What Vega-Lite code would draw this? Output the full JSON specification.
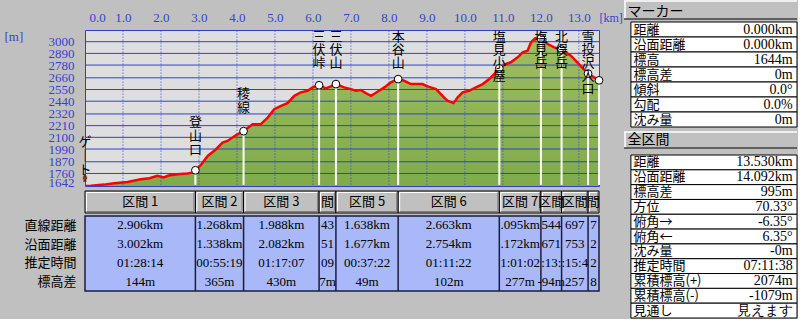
{
  "$schema": "https://vega.github.io/schema/vega-lite/v6.json",
  "background": "#c0c0c0",
  "padding": {"left": 3, "top": 0, "right": 0, "bottom": 0},
  "config": {
    "view": {"stroke": null},
    "font": "Liberation Serif",
    "axis": {"labelFont": "Liberation Serif", "labelFontSize": 13, "labelColor": "#3444cc", "titleFont": "Liberation Serif", "titleFontSize": 13, "titleFontWeight": "normal", "titleColor": "#3444cc", "grid": false, "ticks": false, "domain": false, "labelFlush": false, "titleAngle": 0}
  },
  "datasets": {
    "profile": [
      {"km": 0, "elev": 1642}, {"km": 0.16, "elev": 1645}, {"km": 0.5, "elev": 1655}, {"km": 0.77, "elev": 1667},
      {"km": 1.12, "elev": 1680}, {"km": 1.47, "elev": 1705}, {"km": 1.7, "elev": 1715}, {"km": 1.9, "elev": 1738},
      {"km": 2.0, "elev": 1730}, {"km": 2.07, "elev": 1722}, {"km": 2.2, "elev": 1740}, {"km": 2.44, "elev": 1752},
      {"km": 2.7, "elev": 1760}, {"km": 2.83, "elev": 1768}, {"km": 2.906, "elev": 1790}, {"km": 3.05, "elev": 1840},
      {"km": 3.23, "elev": 1925}, {"km": 3.45, "elev": 1988}, {"km": 3.62, "elev": 2051}, {"km": 3.75, "elev": 2066},
      {"km": 3.97, "elev": 2120}, {"km": 4.174, "elev": 2158}, {"km": 4.41, "elev": 2223}, {"km": 4.63, "elev": 2225},
      {"km": 4.81, "elev": 2286}, {"km": 4.98, "elev": 2365}, {"km": 5.16, "elev": 2396}, {"km": 5.33, "elev": 2422},
      {"km": 5.51, "elev": 2491}, {"km": 5.68, "elev": 2523}, {"km": 5.86, "elev": 2538}, {"km": 5.99, "elev": 2570},
      {"km": 6.162, "elev": 2590}, {"km": 6.34, "elev": 2561}, {"km": 6.47, "elev": 2579}, {"km": 6.605, "elev": 2601},
      {"km": 6.82, "elev": 2570}, {"km": 7.0, "elev": 2554}, {"km": 7.13, "elev": 2538}, {"km": 7.26, "elev": 2545},
      {"km": 7.39, "elev": 2516}, {"km": 7.53, "elev": 2491}, {"km": 7.7, "elev": 2529}, {"km": 7.88, "elev": 2570},
      {"km": 8.05, "elev": 2617}, {"km": 8.243, "elev": 2648}, {"km": 8.4, "elev": 2632}, {"km": 8.58, "elev": 2601},
      {"km": 8.88, "elev": 2601}, {"km": 9.02, "elev": 2579}, {"km": 9.24, "elev": 2554}, {"km": 9.41, "elev": 2491},
      {"km": 9.54, "elev": 2444}, {"km": 9.7, "elev": 2422}, {"km": 9.81, "elev": 2476}, {"km": 9.94, "elev": 2523},
      {"km": 10.11, "elev": 2538}, {"km": 10.29, "elev": 2570}, {"km": 10.47, "elev": 2601}, {"km": 10.64, "elev": 2648},
      {"km": 10.77, "elev": 2695}, {"km": 10.906, "elev": 2749}, {"km": 11.08, "elev": 2790}, {"km": 11.21, "elev": 2806},
      {"km": 11.39, "elev": 2853}, {"km": 11.52, "elev": 2900}, {"km": 11.65, "elev": 2915}, {"km": 11.74, "elev": 2994},
      {"km": 11.85, "elev": 3032}, {"km": 12.001, "elev": 3030}, {"km": 12.18, "elev": 2978}, {"km": 12.35, "elev": 2947},
      {"km": 12.545, "elev": 2925}, {"km": 12.79, "elev": 2868}, {"km": 12.96, "elev": 2806}, {"km": 13.14, "elev": 2736},
      {"km": 13.242, "elev": 2700}, {"km": 13.53, "elev": 2636}
    ],
    "points": [
      {"km": 0, "elev": 1642, "label": ["ゲ", "｜", "ト"]},
      {"km": 2.906, "elev": 1790, "label": ["登", "山", "口"]},
      {"km": 4.174, "elev": 2158, "label": ["稜", "線"]},
      {"km": 6.162, "elev": 2590, "label": ["三", "伏", "峠"]},
      {"km": 6.605, "elev": 2601, "label": ["三", "伏", "山"]},
      {"km": 8.243, "elev": 2648, "label": ["本", "谷", "山"]},
      {"km": 10.906, "elev": 2749, "label": ["塩", "見", "小", "屋"]},
      {"km": 12.001, "elev": 3030, "label": ["塩", "見", "岳"]},
      {"km": 12.545, "elev": 2925, "label": ["北", "俣", "岳"]},
      {"km": 13.242, "elev": 2700, "label": ["雪", "投", "沢", "入", "口"]},
      {"km": 13.53, "elev": 2636, "label": null}
    ],
    "gridY": [
      {"elev": 1760}, {"elev": 1870}, {"elev": 1990}, {"elev": 2100}, {"elev": 2210}, {"elev": 2320},
      {"elev": 2440}, {"elev": 2550}, {"elev": 2660}, {"elev": 2780}, {"elev": 2890}, {"elev": 3000}
    ],
    "gridX": [
      {"km": 0}, {"km": 1}, {"km": 2}, {"km": 3}, {"km": 4}, {"km": 5}, {"km": 6}, {"km": 7},
      {"km": 8}, {"km": 9}, {"km": 10}, {"km": 11}, {"km": 12}, {"km": 13}
    ],
    "sections": [
      {"sec": 1, "start": 0, "end": 2.906, "header": "区間 1", "直線距離": "2.906km", "沿面距離": "3.002km", "推定時間": "01:28:14", "標高差": "144m"},
      {"sec": 2, "start": 2.906, "end": 4.174, "header": "区間 2", "直線距離": "1.268km", "沿面距離": "1.338km", "推定時間": "00:55:19", "標高差": "365m"},
      {"sec": 3, "start": 4.174, "end": 6.162, "header": "区間 3", "直線距離": "1.988km", "沿面距離": "2.082km", "推定時間": "01:17:07", "標高差": "430m"},
      {"sec": 4, "start": 6.162, "end": 6.605, "header": "間", "直線距離": "43", "沿面距離": "51", "推定時間": "09", "標高差": "7m"},
      {"sec": 5, "start": 6.605, "end": 8.243, "header": "区間 5", "直線距離": "1.638km", "沿面距離": "1.677km", "推定時間": "00:37:22", "標高差": "49m"},
      {"sec": 6, "start": 8.243, "end": 10.906, "header": "区間 6", "直線距離": "2.663km", "沿面距離": "2.754km", "推定時間": "01:11:22", "標高差": "102m"},
      {"sec": 7, "start": 10.906, "end": 12.001, "header": "区間 7", "直線距離": ".095km", "沿面距離": ".172km", "推定時間": "1:01:02", "標高差": "277m"},
      {"sec": 8, "start": 12.001, "end": 12.545, "header": "区間", "直線距離": "544", "沿面距離": "671", "推定時間": ":13:", "標高差": "-94m"},
      {"sec": 9, "start": 12.545, "end": 13.242, "header": "区間", "直線距離": "697", "沿面距離": "753", "推定時間": ":15:4", "標高差": "257"},
      {"sec": 10, "start": 13.242, "end": 13.53, "header": "間", "直線距離": "7", "沿面距離": "2", "推定時間": "2", "標高差": "8"}
    ],
    "marker": [
      {"label": "距離", "value": "0.000km"},
      {"label": "沿面距離", "value": "0.000km"},
      {"label": "標高", "value": "1644m"},
      {"label": "標高差", "value": "0m"},
      {"label": "傾斜", "value": "0.0°"},
      {"label": "勾配", "value": "0.0%"},
      {"label": "沈み量", "value": "0m"}
    ],
    "total": [
      {"label": "距離", "value": "13.530km"},
      {"label": "沿面距離", "value": "14.092km"},
      {"label": "標高差", "value": "995m"},
      {"label": "方位", "value": "70.33°"},
      {"label": "俯角→", "value": "-6.35°"},
      {"label": "俯角←", "value": "6.35°"},
      {"label": "沈み量", "value": "-0m"},
      {"label": "推定時間", "value": "07:11:38"},
      {"label": "累積標高(+)", "value": "2074m"},
      {"label": "累積標高(-)", "value": "-1079m"},
      {"label": "見通し", "value": "見えます"}
    ]
  },
  "columns": 2,
  "align": "none",
  "spacing": 0,
  "concat": [
    {
      "spacing": 0,
      "vconcat": [
        {
          "width": 514,
          "height": 29,
          "data": {"name": "gridX"},
          "mark": {"type": "point", "opacity": 0, "size": 1},
          "encoding": {
            "x": {"field": "km", "type": "quantitative", "scale": {"domain": [0, 13.53], "nice": false, "zero": false},
              "axis": {"orient": "top", "offset": -25, "minExtent": 0, "values": [0, 1, 2, 3, 4, 5, 6, 7, 8, 9, 10, 11, 12, 13], "format": ".1f",
                "labelPadding": 4, "labelBaseline": "alphabetic", "labelOverlap": false, "labelSeparation": -40,
                "labelAlign": {"condition": {"test": "datum.value === 0", "value": "left"}, "value": "center"},
                "labelOffset": {"condition": {"test": "datum.value === 0", "value": 4}, "value": 0},
                "title": "[km]", "titleFontSize": 12, "titleAlign": "left", "titleBaseline": "alphabetic", "titleX": 514, "titleY": -4}}
          }
        },
        {
          "width": 514,
          "height": 156,
          "view": {"fill": "#dedede", "stroke": "#3040c8", "strokeWidth": 1},
          "resolve": {"axis": {"x": "independent", "y": "independent"}},
          "layer": [
            {
              "data": {"name": "profile"},
              "mark": {"type": "area", "clip": true, "fill": {"gradient": "linear", "x1": 0, "y1": 0, "x2": 0, "y2": 1, "stops": [{"offset": 0, "color": "#a0bd60"}, {"offset": 1, "color": "#5a9631"}]}, "fillOpacity": 1},
              "encoding": {
                "x": {"field": "km", "type": "quantitative", "scale": {"domain": [0, 13.53], "nice": false, "zero": false}, "axis": null},
                "y": {"field": "elev", "type": "quantitative", "scale": {"domain": [1642, 3110], "nice": false, "zero": false},
                  "axis": {"orient": "left", "minExtent": 0, "values": [1642, 1760, 1870, 1990, 2100, 2210, 2320, 2440, 2550, 2660, 2780, 2890, 3000], "format": "d",
                    "labelPadding": 11, "labelOverlap": false, "labelSeparation": -40,
                    "labelBaseline": {"condition": {"test": "datum.value === 1642", "value": "alphabetic"}, "value": "middle"},
                    "title": "[m]", "titleAlign": "left", "titleBaseline": "top", "titleX": -81, "titleY": 0}}
              }
            },
            {
              "data": {"name": "gridY"},
              "mark": {"type": "rule", "color": "#3040d0", "strokeWidth": 1},
              "encoding": {"y": {"field": "elev", "type": "quantitative", "scale": {"domain": [1642, 3110], "nice": false, "zero": false}, "axis": null}}
            },
            {
              "data": {"name": "gridX"},
              "transform": [{"filter": "datum.km > 0"}],
              "mark": {"type": "rule", "color": "#3040e0", "strokeWidth": 1, "strokeDash": [1, 2]},
              "encoding": {
                "x": {"field": "km", "type": "quantitative", "scale": {"domain": [0, 13.53], "nice": false, "zero": false}, "axis": null},
                "y": {"datum": 3104, "type": "quantitative", "scale": {"domain": [1642, 3110], "nice": false, "zero": false}, "axis": null},
                "y2": {"datum": 1648}
              }
            },
            {
              "data": {"name": "profile"},
              "mark": {"type": "line", "color": "#ff0000", "strokeWidth": 2.5, "clip": true},
              "encoding": {
                "x": {"field": "km", "type": "quantitative", "scale": {"domain": [0, 13.53], "nice": false, "zero": false}, "axis": null},
                "y": {"field": "elev", "type": "quantitative", "scale": {"domain": [1642, 3110], "nice": false, "zero": false}, "axis": null}
              }
            },
            {
              "data": {"name": "points"},
              "transform": [{"filter": "datum.km > 0"}],
              "mark": {"type": "rule", "color": "#ffffff", "strokeWidth": 2},
              "encoding": {
                "x": {"field": "km", "type": "quantitative", "scale": {"domain": [0, 13.53], "nice": false, "zero": false}, "axis": null},
                "y": {"field": "elev", "type": "quantitative", "scale": {"domain": [1642, 3110], "nice": false, "zero": false}, "axis": null},
                "y2": {"datum": 1652}
              }
            },
            {
              "data": {"name": "points"},
              "transform": [{"filter": "datum.km > 0"}],
              "mark": {"type": "point", "shape": "circle", "filled": true, "fill": "#ffffff", "stroke": "#000000", "strokeWidth": 1, "size": 60, "opacity": 1},
              "encoding": {
                "x": {"field": "km", "type": "quantitative", "scale": {"domain": [0, 13.53], "nice": false, "zero": false}, "axis": null},
                "y": {"field": "elev", "type": "quantitative", "scale": {"domain": [1642, 3110], "nice": false, "zero": false}, "axis": null}
              }
            },
            {
              "data": {"name": "points"},
              "transform": [{"filter": "datum.km === 0"}],
              "mark": {"type": "point", "shape": "M-0.3,-0.75 A0.25,0.25 0 1,1 0.3,-0.75 A0.25,0.25 0 1,1 -0.3,-0.75 Z M-0.45,-0.45 L0.45,-0.45 L0.55,0.25 L0.25,0.25 L0.35,1 L0.08,1 L0,0.45 L-0.12,1 L-0.4,1 L-0.28,0.25 L-0.55,0.25 Z", "filled": true, "fill": "#a8281c", "stroke": "#402010", "strokeWidth": 0.5, "size": 50, "opacity": 1, "yOffset": -8},
              "encoding": {
                "x": {"field": "km", "type": "quantitative", "scale": {"domain": [0, 13.53], "nice": false, "zero": false}, "axis": null},
                "y": {"field": "elev", "type": "quantitative", "scale": {"domain": [1642, 3110], "nice": false, "zero": false}, "axis": null}
              }
            },
            {
              "data": {"name": "points"},
              "transform": [{"filter": "datum.km === 0"}],
              "mark": {"type": "text", "font": "Noto Sans CJK JP", "fontSize": 13, "lineHeight": 14, "baseline": "top", "align": "center", "dy": -50, "color": "#000000"},
              "encoding": {
                "x": {"field": "km", "type": "quantitative", "scale": {"domain": [0, 13.53], "nice": false, "zero": false}, "axis": null},
                "y": {"field": "elev", "type": "quantitative", "scale": {"domain": [1642, 3110], "nice": false, "zero": false}, "axis": null},
                "text": {"field": "label"}
              }
            },
            {
              "data": {"name": "points"},
              "transform": [{"filter": "datum.km > 2 && datum.km < 3.5"}],
              "mark": {"type": "text", "font": "Noto Sans CJK JP", "fontSize": 13, "lineHeight": 14, "baseline": "top", "align": "center", "dy": -54, "color": "#000000"},
              "encoding": {
                "x": {"field": "km", "type": "quantitative", "scale": {"domain": [0, 13.53], "nice": false, "zero": false}, "axis": null},
                "y": {"field": "elev", "type": "quantitative", "scale": {"domain": [1642, 3110], "nice": false, "zero": false}, "axis": null},
                "text": {"field": "label"}
              }
            },
            {
              "data": {"name": "points"},
              "transform": [{"filter": "datum.km > 3.5 && datum.km < 5"}],
              "mark": {"type": "text", "font": "Noto Sans CJK JP", "fontSize": 13, "lineHeight": 14, "baseline": "top", "align": "center", "dy": -43, "color": "#000000"},
              "encoding": {
                "x": {"field": "km", "type": "quantitative", "scale": {"domain": [0, 13.53], "nice": false, "zero": false}, "axis": null},
                "y": {"field": "elev", "type": "quantitative", "scale": {"domain": [1642, 3110], "nice": false, "zero": false}, "axis": null},
                "text": {"field": "label"}
              }
            },
            {
              "data": {"name": "points"},
              "transform": [{"filter": "datum.km > 5 && datum.label != null"}],
              "mark": {"type": "text", "font": "Noto Sans CJK JP", "fontSize": 13, "lineHeight": 13, "baseline": "top", "align": "center", "dy": 1, "color": "#000000"},
              "encoding": {
                "x": {"field": "km", "type": "quantitative", "scale": {"domain": [0, 13.53], "nice": false, "zero": false}, "axis": null},
                "y": {"datum": 3110, "type": "quantitative", "scale": {"domain": [1642, 3110], "nice": false, "zero": false}, "axis": null},
                "text": {"field": "label"}
              }
            }
          ]
        },
        {
          "width": 514,
          "height": 22,
          "data": {"name": "sections"},
          "transform": [{"calculate": "(datum.start + datum.end) / 2", "as": "mid"}],
          "encoding": {
            "x": {"field": "start", "type": "quantitative", "scale": {"domain": [0, 13.53], "nice": false, "zero": false}, "axis": null}
          },
          "layer": [
            {
              "mark": {"type": "rect", "fill": "#c0c0c0", "stroke": "#000000", "strokeWidth": 1},
              "encoding": {
                "x2": {"field": "end"},
                "y": {"datum": 0, "type": "quantitative", "scale": {"domain": [0, 1], "nice": false, "zero": false}, "axis": null},
                "y2": {"datum": 1}
              }
            },
            {
              "mark": {"type": "rule", "color": "#ffffff", "strokeWidth": 1, "yOffset": 1.5, "xOffset": 1.5, "x2Offset": -1.5},
              "encoding": {"x2": {"field": "end"}, "y": {"datum": 1, "type": "quantitative"}}
            },
            {
              "mark": {"type": "rule", "color": "#ffffff", "strokeWidth": 1, "xOffset": 1.5, "yOffset": -1.5, "y2Offset": 1.5},
              "encoding": {"y": {"datum": 0, "type": "quantitative"}, "y2": {"datum": 1}}
            },
            {
              "mark": {"type": "rule", "color": "#808080", "strokeWidth": 1, "yOffset": -1.5, "xOffset": 1.5, "x2Offset": -1.5},
              "encoding": {"x2": {"field": "end"}, "y": {"datum": 0, "type": "quantitative"}}
            },
            {
              "mark": {"type": "rule", "color": "#808080", "strokeWidth": 1, "xOffset": -1.5, "yOffset": -1.5, "y2Offset": 1.5},
              "encoding": {"x": {"field": "end", "type": "quantitative"}, "y": {"datum": 0, "type": "quantitative"}, "y2": {"datum": 1}}
            },
            {
              "mark": {"type": "text", "font": "Noto Sans CJK JP", "fontSize": 13, "baseline": "middle", "align": "center", "color": "#000000"},
              "encoding": {
                "x": {"field": "mid", "type": "quantitative"},
                "y": {"datum": 0.5, "type": "quantitative"},
                "text": {"field": "header"}
              }
            }
          ]
        },
        {
          "width": 514,
          "height": 75,
          "view": {"fill": "#a8b8f8", "stroke": "#1c1c3c", "strokeWidth": 1.5},
          "data": {"name": "sections"},
          "transform": [{"calculate": "(datum.start + datum.end) / 2", "as": "mid"}],
          "layer": [
            {
              "transform": [{"filter": "datum.sec > 1"}],
              "mark": {"type": "rule", "color": "#1c1c3c", "strokeWidth": 1.5},
              "encoding": {"x": {"field": "start", "type": "quantitative", "scale": {"domain": [0, 13.53], "nice": false, "zero": false}, "axis": null}}
            },
            {
              "transform": [{"fold": ["直線距離", "沿面距離", "推定時間", "標高差"], "as": ["row", "val"]}],
              "mark": {"type": "text", "font": "Liberation Serif", "fontSize": 13, "baseline": "middle", "align": "center", "color": "#000000"},
              "encoding": {
                "x": {"field": "mid", "type": "quantitative", "scale": {"domain": [0, 13.53], "nice": false, "zero": false}, "axis": null},
                "y": {"field": "row", "type": "nominal", "sort": ["直線距離", "沿面距離", "推定時間", "標高差"], "scale": {"paddingInner": 0, "paddingOuter": 0},
                  "axis": {"orient": "left", "title": null, "labelFont": "Noto Sans CJK JP", "labelFontSize": 13, "labelColor": "#000000", "labelPadding": 9, "labelLimit": 0}},
                "text": {"field": "val"}
              }
            }
          ]
        }
      ]
    },
    {
      "spacing": 3,
      "vconcat": [
        {
          "spacing": 1,
          "vconcat": [
            {
              "width": 173, "height": 20,
              "data": {"values": [{"t": "マーカー"}]},
              "layer": [
                {"mark": {"type": "rect", "fill": "#c0c0c0"},
                 "encoding": {"x": {"datum": 0, "type": "quantitative", "scale": {"domain": [0, 1], "nice": false, "zero": false}, "axis": null}, "x2": {"datum": 1},
                              "y": {"datum": 0, "type": "quantitative", "scale": {"domain": [0, 1], "nice": false, "zero": false}, "axis": null}, "y2": {"datum": 1}}},
                {"mark": {"type": "rule", "color": "#ffffff", "strokeWidth": 1.5, "yOffset": 1}, "encoding": {"x": {"datum": 0, "type": "quantitative"}, "x2": {"datum": 1}, "y": {"datum": 1, "type": "quantitative"}}},
                {"mark": {"type": "rule", "color": "#ffffff", "strokeWidth": 1.5, "xOffset": 1}, "encoding": {"x": {"datum": 0, "type": "quantitative"}, "y": {"datum": 0.04, "type": "quantitative"}, "y2": {"datum": 0.96}}},
                {"mark": {"type": "rule", "color": "#404040", "strokeWidth": 1.5, "yOffset": -1}, "encoding": {"x": {"datum": 0, "type": "quantitative"}, "x2": {"datum": 1}, "y": {"datum": 0, "type": "quantitative"}}},
                {"mark": {"type": "text", "font": "Noto Sans CJK JP", "fontSize": 14, "align": "left", "baseline": "middle", "color": "#000000"},
                 "encoding": {"x": {"datum": 0.02, "type": "quantitative"}, "y": {"datum": 0.42, "type": "quantitative"}, "text": {"field": "t"}}}
              ]
            },
            {
              "width": 173, "height": 105,
              "data": {"name": "marker"},
              "encoding": {
                "y": {"field": "label", "type": "nominal", "sort": null, "scale": {"paddingInner": 0, "paddingOuter": 0}, "axis": null}
              },
              "layer": [
                {"mark": {"type": "rect", "fill": "#ffffff", "stroke": "#000000", "strokeWidth": 1},
                 "encoding": {"x": {"datum": 0.04, "type": "quantitative", "scale": {"domain": [0, 1], "nice": false, "zero": false}, "axis": null}, "x2": {"datum": 1}}},
                {"mark": {"type": "text", "font": "Noto Sans CJK JP", "fontSize": 13, "align": "left", "baseline": "middle", "color": "#000000"},
                 "encoding": {"x": {"datum": 0.055, "type": "quantitative"}, "text": {"field": "label"}}},
                {"mark": {"type": "text", "font": "Liberation Serif", "fontSize": 14, "align": "right", "baseline": "middle", "color": "#000000"},
                 "encoding": {"x": {"datum": 0.975, "type": "quantitative"}, "text": {"field": "value"}}}
              ]
            }
          ]
        },
        {
          "spacing": 5,
          "vconcat": [
            {
              "width": 173, "height": 18,
              "data": {"values": [{"t": "全区間"}]},
              "layer": [
                {"mark": {"type": "rect", "fill": "#c0c0c0"},
                 "encoding": {"x": {"datum": 0, "type": "quantitative", "scale": {"domain": [0, 1], "nice": false, "zero": false}, "axis": null}, "x2": {"datum": 1},
                              "y": {"datum": 0, "type": "quantitative", "scale": {"domain": [0, 1], "nice": false, "zero": false}, "axis": null}, "y2": {"datum": 1}}},
                {"mark": {"type": "rule", "color": "#ffffff", "strokeWidth": 1.5, "yOffset": 1}, "encoding": {"x": {"datum": 0, "type": "quantitative"}, "x2": {"datum": 1}, "y": {"datum": 1, "type": "quantitative"}}},
                {"mark": {"type": "rule", "color": "#ffffff", "strokeWidth": 1.5, "xOffset": 1}, "encoding": {"x": {"datum": 0, "type": "quantitative"}, "y": {"datum": 0.05, "type": "quantitative"}, "y2": {"datum": 0.95}}},
                {"mark": {"type": "rule", "color": "#404040", "strokeWidth": 1.5, "yOffset": -1}, "encoding": {"x": {"datum": 0, "type": "quantitative"}, "x2": {"datum": 1}, "y": {"datum": 0, "type": "quantitative"}}},
                {"mark": {"type": "text", "font": "Noto Sans CJK JP", "fontSize": 14, "align": "left", "baseline": "middle", "color": "#000000"},
                 "encoding": {"x": {"datum": 0.02, "type": "quantitative"}, "y": {"datum": 0.5, "type": "quantitative"}, "text": {"field": "t"}}}
              ]
            },
            {
              "width": 173, "height": 163,
              "data": {"name": "total"},
              "encoding": {
                "y": {"field": "label", "type": "nominal", "sort": null, "scale": {"paddingInner": 0, "paddingOuter": 0}, "axis": null}
              },
              "layer": [
                {"mark": {"type": "rect", "fill": "#ffffff", "stroke": "#000000", "strokeWidth": 1},
                 "encoding": {"x": {"datum": 0.04, "type": "quantitative", "scale": {"domain": [0, 1], "nice": false, "zero": false}, "axis": null}, "x2": {"datum": 1}}},
                {"mark": {"type": "text", "font": "Noto Sans CJK JP", "fontSize": 13, "align": "left", "baseline": "middle", "color": "#000000"},
                 "encoding": {"x": {"datum": 0.055, "type": "quantitative"}, "text": {"field": "label"}}},
                {"mark": {"type": "text", "font": "Liberation Serif", "fontSize": 14, "align": "right", "baseline": "middle", "color": "#000000"},
                 "encoding": {"x": {"datum": 0.975, "type": "quantitative"}, "text": {"field": "value"}}}
              ]
            }
          ]
        }
      ]
    }
  ]
}
